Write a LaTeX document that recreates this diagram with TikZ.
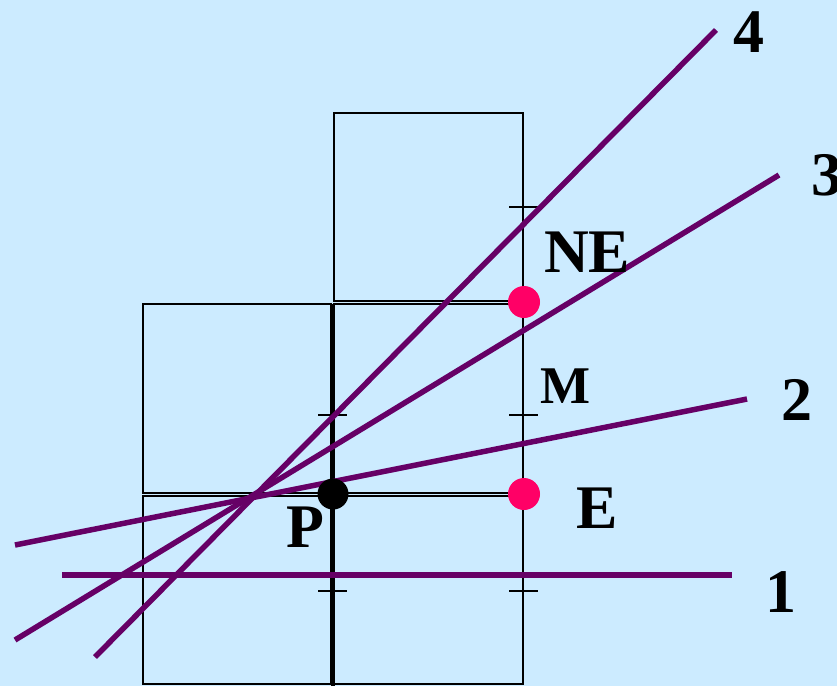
\documentclass[tikz,border=0pt]{standalone}
\usepackage{fontspec}
\setmainfont{Liberation Serif}
\definecolor{bgblue}{HTML}{CCEBFF}
\definecolor{linepurple}{HTML}{660066}
\definecolor{dotred}{HTML}{FF0066}
\begin{document}
\begin{tikzpicture}[x=1pt,y=-1pt,
  cell/.style={draw=black,line width=2pt},
  divider/.style={draw=black,line width=4.5pt},
  tick/.style={draw=black,line width=1.8pt},
  ray/.style={draw=linepurple,line width=5.5pt},
  reddot/.style={circle,fill=dotred,minimum size=32pt,inner sep=0pt},
  blackdot/.style={circle,fill=black,minimum size=31pt,inner sep=0pt},
  lab/.style={anchor=base west,inner sep=0pt,font=\fontsize{62}{62}\selectfont\bfseries},
  labsmall/.style={anchor=base west,inner sep=0pt,font=\fontsize{53}{53}\selectfont\bfseries}]
\fill[bgblue] (0,0) rectangle (837,686);
\useasboundingbox (0,0) rectangle (837,686);
% grid cells
\draw[cell] (334,113) rectangle (523,301);
\draw[cell] (143,304) rectangle (331,493);
\draw[cell] (334,304) rectangle (523,493);
\draw[cell] (143,496) rectangle (331,684);
\draw[cell] (334,496) rectangle (523,684);
\draw[divider] (333,304) -- (333,686);
% ticks
\foreach \yy in {207,415,591} \draw[tick] (509,\yy) -- (538,\yy);
\foreach \yy in {415,591} \draw[tick] (318,\yy) -- (347,\yy);
% rays
\coordinate (l1a) at (62,575);  \coordinate (l1b) at (732,575);
\coordinate (l2a) at (15,545);  \coordinate (l2b) at (747,399);
\coordinate (l3a) at (15,640);  \coordinate (l3b) at (779,175);
\coordinate (l4a) at (95,657);  \coordinate (l4b) at (716,30);
\draw[ray] (l1a) -- (l1b);
\draw[ray] (l2a) -- (l2b);
\draw[ray] (l3a) -- (l3b);
\draw[ray] (l4a) -- (l4b);
% points
\node[reddot] (ne) at (524,302) {};
\node[reddot] (e) at (524,494) {};
\node[blackdot] (p) at (333,494) {};
% labels
\node[lab] (t4) at (733,52) {4};
\node[lab] (t3) at (811,195) {3};
\node[lab] (t2) at (781,420) {2};
\node[lab] (t1) at (765,612) {1};
\node[lab] (tne) at (544,272) {NE};
\node[labsmall] (tm) at (540,403) {M};
\node[lab] (te) at (576,528) {E};
\node[lab] (tp) at (286,547) {P};
\end{tikzpicture}
\end{document}
